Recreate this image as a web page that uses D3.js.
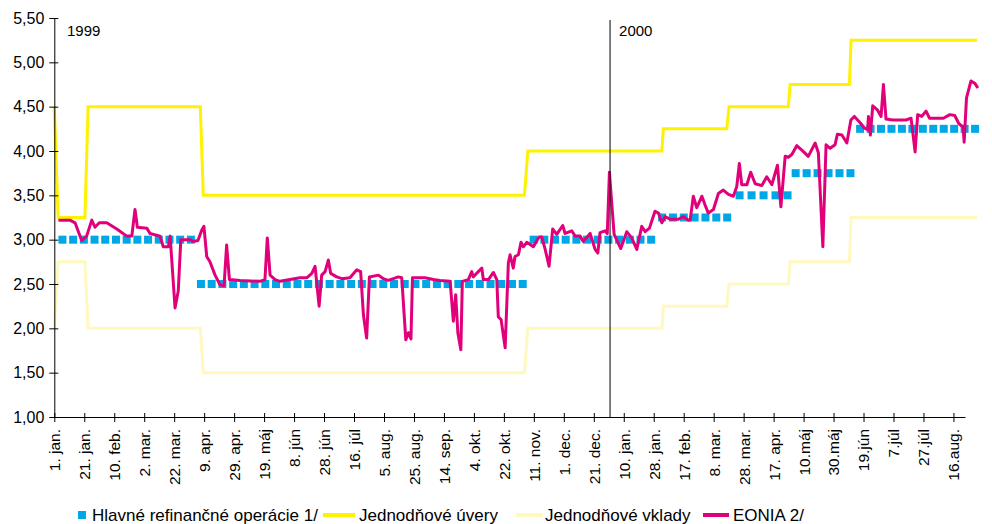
<!DOCTYPE html>
<html lang="sk">
<head>
<meta charset="utf-8">
<title>Úrokové sadzby ECB</title>
<script src="https://cdn.jsdelivr.net/npm/d3@7"></script>
<style>
  body { margin: 0; background: #fff; }
  svg { display: block; font-family: "Liberation Sans", Arial, sans-serif; }
</style>
</head>
<body>
<svg id="chart" width="992" height="524"></svg>
<script>
// x axis = business day index, a tick every 14 days
const tickLabels = ["1. jan.", "21. jan.", "10. feb.", "2. mar.", "22. mar.", "9. apr.", "29. apr.", "19. máj",
  "8. jún", "28. jún", "16. júl", "5. aug.", "25. aug.", "14. sep.", "4. okt.", "22. okt.", "11. nov.",
  "1. dec.", "21. dec.", "10. jan.", "28. jan.", "17. feb.", "8. mar.", "28. mar.", "17. apr.",
  "10.máj", "30.máj", "19.jún", "7.júl", "27.júl", "16.aug."];
const yTicks = [1, 1.5, 2, 2.5, 3, 3.5, 4, 4.5, 5, 5.5];
const yearStartDay = 259.6;

// Jednodňové úvery / vklady (corridor)
const corridorDays = [0, 1.8, 14.3, 15.8, 68.2, 69.6, 219.6, 221.2, 283.8, 284.5, 314.1, 315.2, 342.9, 343.7, 371.4, 372.2, 431];
const lendingRates = [4.50, 3.25, 3.25, 4.50, 4.50, 3.50, 3.50, 4.00, 4.00, 4.25, 4.25, 4.50, 4.50, 4.75, 4.75, 5.25, 5.25];
const depositRates = [2.00, 2.75, 2.75, 2.00, 2.00, 1.50, 1.50, 2.00, 2.00, 2.25, 2.25, 2.50, 2.50, 2.75, 2.75, 3.25, 3.25];

// Hlavné refinančné operácie: weekly tenders, [first day, last day, number of tenders, rate]
const mroFirst = [3.8, 68.5, 223.9, 283.9, 320.1, 346.3, 376.4];
const mroLast  = [63.8, 218.8, 278.8, 314.3, 342.5, 371.9, 430.1];
const mroCount = [13, 31, 12, 7, 5, 6, 12];
const mroRates = [3.00, 2.50, 3.00, 3.25, 3.50, 3.75, 4.25];

// EONIA
const eoniaDays = [1.9, 7.3, 9.7, 12.8, 15.1, 17.5, 19.0, 21.0, 24.5, 29.2, 33.8, 36.2, 37.7, 38.8, 43.2, 44.7, 49.4, 50.9, 53.3, 54.1,
  56.4, 57.9, 59.1, 63.4, 64.9, 67.1, 68.9, 69.9, 71.2, 72.7, 75.1, 77.4, 79.3, 80.5, 81.8, 86.8, 96.1, 98.4, 99.5, 100.8,
  103.1, 105.4, 110.1, 114.8, 117.9, 120.3, 121.8, 123.7, 124.9, 126.5, 128.0, 129.1, 131.9, 134.3, 138.1, 141.3, 143.1, 144.4, 145.9, 147.2,
  151.4, 153.7, 156.0, 160.7, 162.3, 164.2, 165.4, 166.6, 167.3, 173.2, 177.1, 180.2, 184.9, 186.4, 187.5, 188.5, 189.9, 190.6, 193.4, 195.0,
  195.7, 199.7, 200.4, 202.8, 205.1, 206.7, 207.4, 208.7, 210.6, 212.1, 212.9, 214.4, 215.2, 216.8, 218.0, 219.1, 220.7, 223.8, 226.4, 227.7,
  229.2, 231.1, 232.8, 234.7, 237.5, 238.6, 241.7, 243.3, 245.6, 247.1, 250.3, 252.6, 253.9, 254.9, 257.3, 258.3, 259.3, 261.5, 264.6, 267.4,
  269.7, 272.1, 274.4, 276.0, 278.0, 280.6, 282.2, 283.8, 285.3, 287.7, 291.5, 293.9, 296.2, 297.0, 298.5, 300.1, 302.5, 304.0, 305.5, 307.9,
  310.2, 312.5, 314.9, 317.2, 318.8, 320.0, 321.1, 323.5, 325.3, 327.4, 330.5, 332.8, 335.2, 337.8, 339.4, 341.4, 342.9, 344.5, 346.8, 349.2,
  352.2, 355.4, 356.9, 359.0, 360.5, 362.4, 364.7, 365.8, 367.9, 370.2, 372.1, 373.7, 376.0, 378.4, 379.9, 380.3, 381.2, 382.3, 384.6, 386.2,
  387.3, 388.5, 391.6, 397.9, 400.2, 402.1, 403.3, 405.2, 407.2, 408.8, 415.3, 418.3, 420.6, 422.5, 424.5, 425.0, 426.1, 428.2, 430.1, 431.4];
const eoniaRates = [3.22, 3.22, 3.19, 2.99, 3.04, 3.22, 3.14, 3.19, 3.19, 3.12, 3.04, 3.04, 3.34, 3.14, 3.13, 3.07, 3.04, 2.92, 2.92, 3.04,
  2.23, 2.42, 3.00, 3.00, 2.98, 2.99, 3.11, 3.15, 2.81, 2.75, 2.60, 2.49, 2.48, 2.94, 2.55, 2.54, 2.53, 2.55, 3.02, 2.60,
  2.55, 2.53, 2.55, 2.57, 2.57, 2.62, 2.70, 2.25, 2.60, 2.64, 2.77, 2.62, 2.58, 2.56, 2.57, 2.66, 2.64, 2.15, 1.89, 2.58,
  2.60, 2.56, 2.54, 2.58, 2.57, 1.87, 1.95, 1.88, 2.57, 2.57, 2.55, 2.54, 2.53, 2.08, 2.38, 1.95, 1.76, 2.53, 2.55, 2.64,
  2.58, 2.68, 2.55, 2.55, 2.63, 2.55, 2.13, 2.10, 1.78, 2.74, 2.83, 2.68, 2.81, 2.83, 2.97, 2.92, 2.97, 2.92, 3.03, 3.03,
  2.90, 2.70, 3.12, 3.06, 3.16, 3.07, 3.10, 3.04, 3.04, 2.98, 3.07, 2.89, 2.85, 3.08, 3.10, 3.07, 3.76, 3.06, 2.90, 3.09,
  3.02, 2.89, 3.15, 3.09, 3.13, 3.32, 3.30, 3.19, 3.26, 3.23, 3.23, 3.26, 3.22, 3.22, 3.49, 3.36, 3.49, 3.39, 3.30, 3.34,
  3.52, 3.56, 3.51, 3.49, 3.60, 3.86, 3.62, 3.62, 3.76, 3.63, 3.61, 3.71, 3.62, 3.84, 3.37, 3.94, 3.93, 3.96, 4.06, 4.01,
  3.94, 4.09, 3.98, 2.92, 4.07, 4.03, 4.07, 4.19, 4.18, 4.09, 4.35, 4.39, 4.33, 4.26, 4.24, 4.39, 4.18, 4.51, 4.46, 4.39,
  4.75, 4.36, 4.35, 4.35, 4.37, 3.99, 4.41, 4.39, 4.45, 4.37, 4.37, 4.41, 4.40, 4.31, 4.27, 4.10, 4.60, 4.79, 4.76, 4.71];

const colors = { mro: "#00a7e7", lending: "#fff200", deposit: "#fff8bf", eonia: "#e2007a" };

const svg = d3.select("#chart");
const x = d3.scaleLinear().domain([0, 425.4]).range([54.3, 965]);
const y = d3.scaleLinear().domain([1, 5.5]).range([417, 18]);
const comma = d3.formatLocale({ decimal: ",", thousands: " ", grouping: [3], currency: ["", ""] }).format(".2f");

// corridor lines
const line = d3.line().x(d => x(d[0])).y(d => y(d[1]));
svg.append("path").datum(corridorDays.map((d, i) => [d, depositRates[i]]))
  .attr("d", line).attr("fill", "none").attr("stroke", colors.deposit).attr("stroke-width", 3);
svg.append("path").datum(corridorDays.map((d, i) => [d, lendingRates[i]]))
  .attr("d", line).attr("fill", "none").attr("stroke", colors.lending).attr("stroke-width", 3);

// weekly tenders as squares
let mro = [];
mroRates.forEach((r, s) => {
  const step = mroCount[s] > 1 ? (mroLast[s] - mroFirst[s]) / (mroCount[s] - 1) : 0;
  for (let k = 0; k < mroCount[s]; k++) mro.push([mroFirst[s] + k * step, r]);
});
const sq = 8;
svg.append("g").selectAll("rect").data(mro).enter().append("rect")
  .attr("x", d => x(d[0]) - sq / 2).attr("y", d => y(d[1]) - sq / 2)
  .attr("width", sq).attr("height", sq).attr("fill", colors.mro);

// EONIA
svg.append("path").datum(eoniaDays.map((d, i) => [d, eoniaRates[i]]))
  .attr("d", line).attr("fill", "none").attr("stroke", colors.eonia)
  .attr("stroke-width", 3).attr("stroke-linejoin", "round");

// year separator
svg.append("line").attr("x1", x(yearStartDay)).attr("x2", x(yearStartDay))
  .attr("y1", 20).attr("y2", y(1)).attr("stroke", "#000").attr("stroke-width", 1);
svg.append("text").attr("x", 67).attr("y", 35.5).attr("font-size", 15).text("1999");
svg.append("text").attr("x", x(yearStartDay) + 9).attr("y", 35.5).attr("font-size", 15).text("2000");

// axes
const yAxis = svg.append("g").attr("transform", "translate(" + x(0) + ",0)")
  .call(d3.axisLeft(y).tickValues(yTicks).tickFormat(comma).tickSizeOuter(0));
yAxis.selectAll(".tick line").attr("x1", 4).attr("x2", -5);
yAxis.selectAll("text").attr("x", -10).attr("font-size", 16).attr("fill", "#000");

const xAxis = svg.append("g").attr("transform", "translate(0," + y(1) + ")")
  .call(d3.axisBottom(x).tickValues(tickLabels.map((t, i) => i * 14))
    .tickFormat((d, i) => tickLabels[i]).tickSizeOuter(0));
xAxis.selectAll(".tick line").attr("y1", -4).attr("y2", 5);
xAxis.selectAll("text").attr("font-size", 15.5).attr("fill", "#000")
  .attr("transform", "rotate(-90)").attr("text-anchor", "end")
  .attr("x", -12).attr("y", 0).attr("dy", "0.35em");
svg.selectAll(".domain").attr("stroke", "#000");

// legend
const lg = svg.append("g").attr("font-size", 17);
lg.append("rect").attr("x", 78).attr("y", 511).attr("width", 8).attr("height", 8).attr("fill", colors.mro);
lg.append("text").attr("x", 92).attr("y", 521).text("Hlavné refinančné operácie 1/");
lg.append("line").attr("x1", 323).attr("x2", 355).attr("y1", 515).attr("y2", 515).attr("stroke", colors.lending).attr("stroke-width", 4);
lg.append("text").attr("x", 359).attr("y", 521).text("Jednodňové úvery");
lg.append("line").attr("x1", 516).attr("x2", 543).attr("y1", 515).attr("y2", 515).attr("stroke", colors.deposit).attr("stroke-width", 4);
lg.append("text").attr("x", 545).attr("y", 521).text("Jednodňové vklady");
lg.append("line").attr("x1", 703).attr("x2", 729).attr("y1", 515).attr("y2", 515).attr("stroke", colors.eonia).attr("stroke-width", 4);
lg.append("text").attr("x", 733).attr("y", 521).text("EONIA 2/");
</script>
</body>
</html>
